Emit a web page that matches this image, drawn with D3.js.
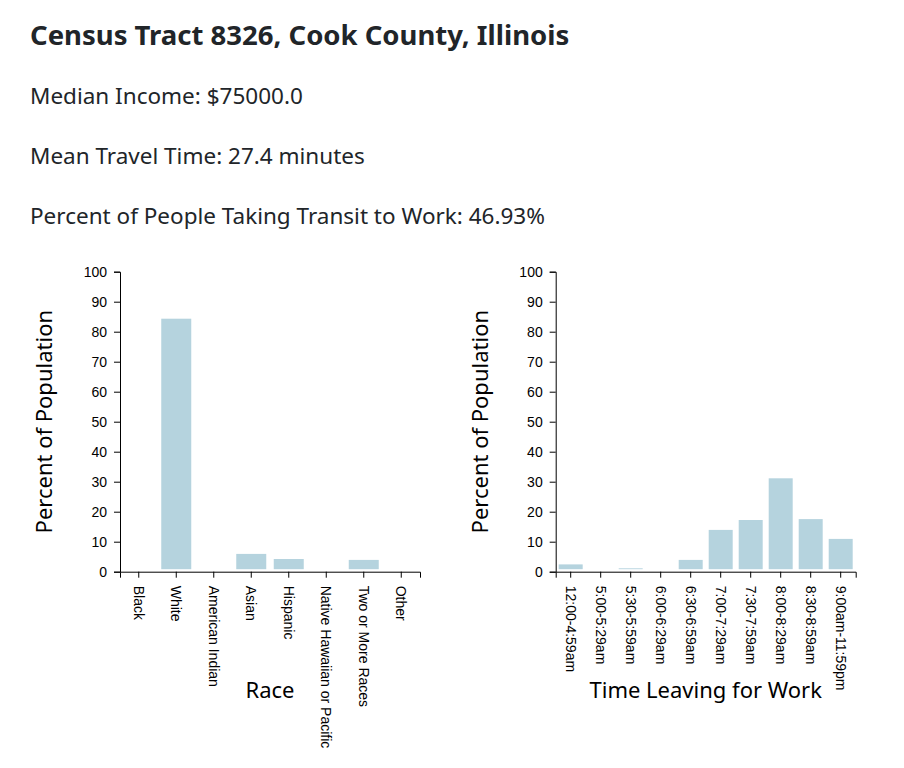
<!DOCTYPE html>
<html>
<head>
<meta charset="utf-8">
<script src="https://cdn.jsdelivr.net/npm/d3@7"></script>
<style>
  html, body { margin: 0; padding: 0; background: #fff; }
  svg { display: block; }
  .hdr { font-family: "Noto Sans", "Open Sans", sans-serif; fill: #212529; }
  .domain, .tick line { stroke: #000; }
  .axis-title { font-family: "Noto Sans", "Open Sans", sans-serif; font-size: 22px; fill: #000; }
</style>
</head>
<body>
<script>
const titleText = "Census Tract 8326, Cook County, Illinois";
const infoLines = ["Median Income: $75000.0", "Mean Travel Time: 27.4 minutes", "Percent of People Taking Transit to Work: 46.93%"];

const raceCategories = ["Black", "White", "American Indian", "Asian", "Hispanic", "Native Hawaiian or Pacific", "Two or More Races", "Other"];
const raceValues = [0, 83.5, 0, 5.1, 3.4, 0, 3.1, 0];

const timeCategories = ["12:00-4:59am", "5:00-5:29am", "5:30-5:59am", "6:00-6:29am", "6:30-6:59am", "7:00-7:29am", "7:30-7:59am", "8:00-8:29am", "8:30-8:59am", "9:00am-11:59pm"];
const timeValues = [1.6, 0, 0.3, 0, 3.1, 13.1, 16.4, 30.3, 16.7, 10.1];

const yTicks = [0, 10, 20, 30, 40, 50, 60, 70, 80, 90, 100];

const W = 904, H = 768;
const svg = d3.select("body").append("svg").attr("width", W).attr("height", H);

svg.append("text").attr("class", "hdr").attr("x", 30).attr("y", 45)
  .style("font-size", "27.5px").style("font-weight", "bold").text(titleText);
const lineY = [104, 164, 224];
infoLines.forEach((t, i) => {
  svg.append("text").attr("class", "hdr").attr("x", 30).attr("y", lineY[i])
    .style("font-size", "22.5px").text(t);
});

const tickFont = "'Liberation Sans', Arial, sans-serif";

function barChart(left, top, cats, vals, xTitle) {
  const w = 300, h = 300;
  const g = svg.append("g").attr("transform", `translate(${left},${top})`);
  const x = d3.scaleBand().domain(cats).range([0, w]).padding(0);
  const y = d3.scaleLinear().domain([0, 100]).range([h, 0]);

  const data = cats.map((c, i) => ({ c, v: vals[i] }));
  g.append("g").attr("transform", "translate(0,-2.5)")
    .selectAll("rect").data(data).join("rect")
    .attr("x", d => x(d.c) + x.bandwidth() * 0.1)
    .attr("width", x.bandwidth() * 0.8)
    .attr("y", d => y(d.v))
    .attr("height", d => h - y(d.v))
    .attr("fill", "#b5d3de");

  g.append("g").call(d3.axisLeft(y).tickValues(yTicks).tickPadding(7))
    .call(a => a.selectAll("text").style("font-size", "14px").style("font-family", tickFont).attr("fill", "#000"));

  g.append("g").attr("transform", `translate(0,${h})`)
    .call(d3.axisBottom(x))
    .selectAll("text")
    .style("font-size", "14px").style("font-family", tickFont).attr("fill", "#000")
    .attr("transform", "rotate(90)")
    .attr("x", 14).attr("y", 0).attr("dy", "0.35em")
    .style("text-anchor", "start");

  g.append("text").attr("class", "axis-title")
    .attr("transform", "rotate(-90)")
    .attr("x", -h / 2).attr("y", -68)
    .style("text-anchor", "middle").text("Percent of Population");

  g.append("text").attr("class", "axis-title")
    .attr("x", w / 2).attr("y", h + 126)
    .style("text-anchor", "middle").text(xTitle);
}

barChart(120, 271.7, raceCategories, raceValues, "Race");
barChart(555.7, 271.7, timeCategories, timeValues, "Time Leaving for Work");
</script>
</body>
</html>
